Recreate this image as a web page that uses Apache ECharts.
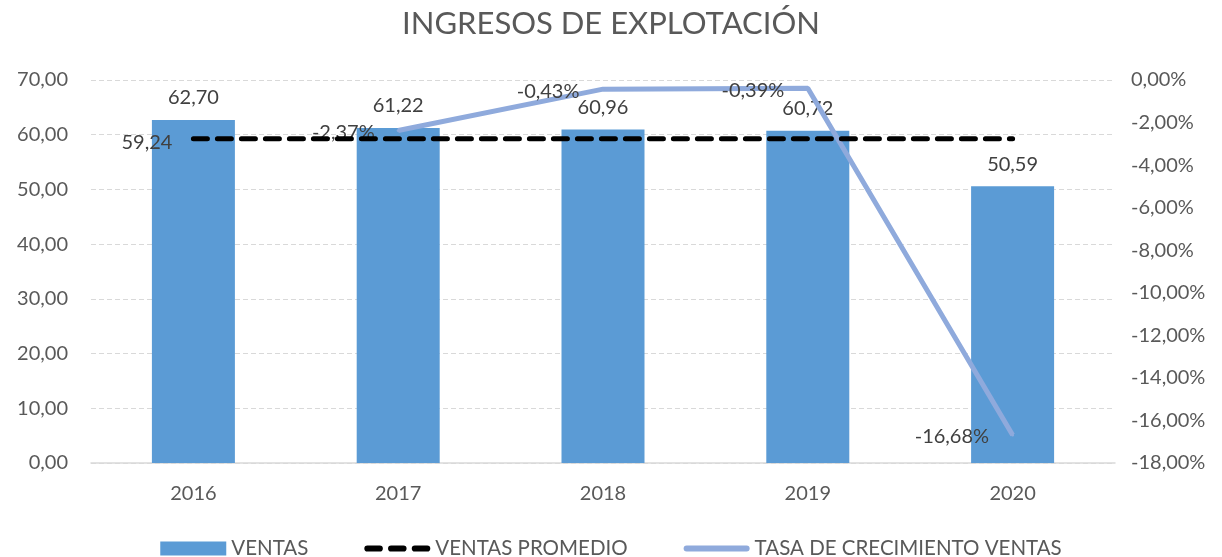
<!DOCTYPE html>
<html>
<head>
<meta charset="utf-8">
<script src="https://cdn.jsdelivr.net/npm/echarts@6/dist/echarts.min.js"></script>
<style>
  html, body { margin: 0; padding: 0; background: #fff; }
  #chart { width: 1222px; height: 557px; }
</style>
</head>
<body>
<div id="chart"></div>
<script>
// Ingresos de explotación 2016-2020
const years = ['2016', '2017', '2018', '2019', '2020'];
const ventas = [62.70, 61.22, 60.96, 60.72, 50.59];
const ventasPromedio = [59.24, 59.24, 59.24, 59.24, 59.24];
const tasaCrecimiento = [null, -2.37, -0.43, -0.39, -16.68]; // %

const textColor = '#595959';
const labelColor = '#404040';
const fontFamily = 'Lato, "Open Sans", sans-serif';

const fmt = (v, d) => v.toFixed(d).replace('.', ',');

// legend icons: three rounded dashes, and a thick rounded line
const dashIcon = 'path://M3,0H15A3,3 0 0 1 15,6H3A3,3 0 0 1 3,0Z' +
    'M26,0H38A3,3 0 0 1 38,6H26A3,3 0 0 1 26,0Z' +
    'M49,0H61A3,3 0 0 1 61,6H49A3,3 0 0 1 49,0Z';
const lineIcon = 'path://M3,0H63A3,3 0 0 1 63,6H3A3,3 0 0 1 3,0Z';

const chart = echarts.init(document.getElementById('chart'), null, { renderer: 'canvas' });

chart.setOption({
    backgroundColor: '#fff',
    animation: false,
    title: {
        text: 'INGRESOS DE EXPLOTACIÓN',
        left: 'center',
        top: 3,
        textStyle: { color: textColor, fontSize: 31, fontWeight: 'normal', fontFamily: fontFamily }
    },
    legend: {
        bottom: -7,
        left: 'center',
        itemGap: 56,
        itemWidth: 66,
        itemHeight: 14,
        textStyle: { color: textColor, fontSize: 20.5, fontFamily: fontFamily },
        data: [
            { name: 'VENTAS', icon: 'rect' },
            { name: 'VENTAS PROMEDIO', icon: dashIcon, itemStyle: { color: '#000' } },
            { name: 'TASA DE CRECIMIENTO VENTAS', icon: lineIcon, itemStyle: { color: '#8faadc' } }
        ]
    },
    grid: { left: 91, right: 107, top: 80, bottom: 94 },
    xAxis: {
        type: 'category',
        data: years,
        axisTick: { show: false },
        axisLine: { lineStyle: { color: '#d9d9d9', width: 1.5 } },
        axisLabel: { color: textColor, fontSize: 20, fontFamily: fontFamily, margin: 21 }
    },
    yAxis: [
        {
            type: 'value',
            min: 0,
            max: 70,
            interval: 10,
            axisLine: { show: false },
            axisTick: { show: false },
            axisLabel: { color: textColor, fontSize: 20, fontFamily: fontFamily, margin: 23,
                formatter: v => fmt(v, 2) },
            splitLine: { lineStyle: { color: '#d9d9d9', type: [5, 3], width: 1 } }
        },
        {
            type: 'value',
            min: -18,
            max: 0,
            interval: 2,
            axisLine: { show: false },
            axisTick: { show: false },
            axisLabel: { color: textColor, fontSize: 20, fontFamily: fontFamily, margin: 16,
                formatter: v => fmt(v, 2) + '%' },
            splitLine: { show: false }
        }
    ],
    series: [
        {
            name: 'VENTAS',
            type: 'bar',
            data: ventas,
            barWidth: 83,
            itemStyle: { color: '#5b9bd5' },
            label: {
                show: true,
                position: 'top',
                distance: 12,
                color: labelColor,
                fontSize: 20,
                fontFamily: fontFamily,
                formatter: p => fmt(p.value, 2)
            },
            z: 1
        },
        {
            name: 'VENTAS PROMEDIO',
            type: 'line',
            data: ventasPromedio,
            symbol: 'circle',
            symbolSize: 2,
            showAllSymbol: true,
            itemStyle: { color: '#000' },
            lineStyle: { color: '#000', width: 5, type: [14, 10], cap: 'round' },
            label: {
                show: true,
                position: 'left',
                distance: 20,
                offset: [0, 4],
                color: labelColor,
                fontSize: 20,
                fontFamily: fontFamily,
                formatter: p => p.dataIndex === 0 ? fmt(p.value, 2) : ''
            },
            z: 3
        },
        {
            name: 'TASA DE CRECIMIENTO VENTAS',
            type: 'line',
            yAxisIndex: 1,
            data: tasaCrecimiento,
            symbol: 'circle',
            symbolSize: 3,
            showAllSymbol: true,
            itemStyle: { color: '#8faadc' },
            lineStyle: { color: '#8faadc', width: 5 },
            label: {
                show: true,
                position: 'left',
                distance: 22,
                offset: [0, 2],
                color: labelColor,
                fontSize: 20,
                fontFamily: fontFamily,
                formatter: p => p.value == null ? '' : fmt(p.value, 2) + '%'
            },
            z: 2
        }
    ]
});
</script>
</body>
</html>
